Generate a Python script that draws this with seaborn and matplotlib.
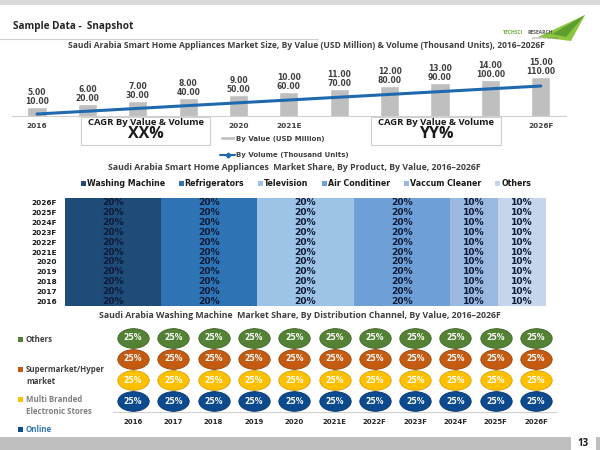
import matplotlib
matplotlib.use('Agg')
import matplotlib.pyplot as plt
import seaborn as sns
import numpy as np
import pandas as pd
from matplotlib.path import Path
from matplotlib.markers import MarkerStyle
from matplotlib.patches import Rectangle, Polygon

# --- data ---
years = ['2016', '2017', '2018', '2019', '2020', '2021E', '2022F', '2023F', '2024F', '2025F', '2026F']
value_usd_mn = [5.00, 6.00, 7.00, 8.00, 9.00, 10.00, 11.00, 12.00, 13.00, 14.00, 15.00]
volume_k_units = [10.00, 20.00, 30.00, 40.00, 50.00, 60.00, 70.00, 80.00, 90.00, 100.00, 110.00]
# year labels left uncovered by the CAGR boxes
shown_years = ['2016', '2020', '2021E', '2026F']

products = ['Washing Machine', 'Refrigerators', 'Television', 'Air Conditiner', 'Vaccum Cleaner', 'Others']
share_washing = [20, 20, 20, 20, 20, 20, 20, 20, 20, 20, 20]
share_fridge = [20, 20, 20, 20, 20, 20, 20, 20, 20, 20, 20]
share_tv = [20, 20, 20, 20, 20, 20, 20, 20, 20, 20, 20]
share_ac = [20, 20, 20, 20, 20, 20, 20, 20, 20, 20, 20]
share_vacuum = [10, 10, 10, 10, 10, 10, 10, 10, 10, 10, 10]
share_others = [10, 10, 10, 10, 10, 10, 10, 10, 10, 10, 10]
product_colors = ['#1F4B78', '#2E74B5', '#9DC3E6', '#6E9FD6', '#9BB8E0', '#C5D5EC']

# distribution channels, bottom of stack first
channels = ['Online', 'Multi Branded Electronic Stores', 'Supermarket/Hyper market', 'Others']
ch_online = [25, 25, 25, 25, 25, 25, 25, 25, 25, 25, 25]
ch_multi = [25, 25, 25, 25, 25, 25, 25, 25, 25, 25, 25]
ch_super = [25, 25, 25, 25, 25, 25, 25, 25, 25, 25, 25]
ch_others = [25, 25, 25, 25, 25, 25, 25, 25, 25, 25, 25]
channel_colors = ['#0B4A8F', '#FFC000', '#C55A11', '#548235']
channel_edges = ['#08386C', '#D9A300', '#9C470D', '#3F6427']

sns.set_style('white')
plt.rcParams['font.family'] = ['Open Sans', 'DejaVu Sans']

W, H = 600, 450
fig = plt.figure(figsize=(6, 4.5), dpi=100)


def box(l, t, r, b):
    return [l / W, 1 - b / H, (r - l) / W, (b - t) / H]


GREY_TXT = '#404040'

# --- 1. market size: bars (value) + line (volume) ---
ax = fig.add_axes(box(11.8, 60, 566, 116))
x = np.arange(len(years))
sns.barplot(x=years, y=value_usd_mn, color='#BFBFBF', width=0.38, ax=ax, saturation=1)
ax.set_ylim(2, 20.67)
ax.set_xlim(-0.5, 10.5)
ax.set_yticks([])
for s in ['top', 'left', 'right']:
    ax.spines[s].set_visible(False)
ax.spines['bottom'].set_color('#D0D0D0')
ax.set_xticks(x)
ax.set_xticklabels([y if y in shown_years else '' for y in years])
ax.tick_params(axis='x', length=0, pad=5)
for lbl in ax.get_xticklabels():
    lbl.set_fontfamily('DejaVu Sans')
    lbl.set_fontsize(5.3)
    lbl.set_fontweight('bold')
    lbl.set_color(GREY_TXT)
for i in range(len(years)):
    ax.annotate(f'{volume_k_units[i]:.2f}', (i, value_usd_mn[i]), xytext=(0, 0.5),
                textcoords='offset points', ha='center', va='bottom',
                fontsize=5.5, fontweight='bold', color=GREY_TXT, family='DejaVu Sans')
    ax.annotate(f'{value_usd_mn[i]:.2f}', (i, value_usd_mn[i]), xytext=(0, 7),
                textcoords='offset points', ha='center', va='bottom',
                fontsize=5.5, fontweight='bold', color=GREY_TXT, family='DejaVu Sans')

ax2 = ax.twinx()
sns.lineplot(x=x, y=volume_k_units, color='#1F6AAE', linewidth=2.2, ax=ax2, legend=False)
ax2.set_ylim(2.86, 202.9)
ax2.set_xlim(-0.5, 10.5)
ax2.axis('off')

h1 = ax.containers[0].patches[0]
line_handle = plt.Line2D([], [], color='#1F6AAE', linewidth=1.5, marker='D', markersize=2.5)
fig.legend([h1, line_handle], ['By Value (USD Million)', 'By Volume (Thousand Units)'],
           loc='upper left', bbox_to_anchor=(220 / W, 1 - 135.5 / H), frameon=False,
           prop={'family': 'DejaVu Sans', 'size': 5.0, 'weight': 'bold'},
           labelspacing=1.5, handlelength=2.2, handleheight=0.4, handletextpad=0.15,
           borderaxespad=0, borderpad=0, labelcolor=GREY_TXT)

# --- 2. market share by product: stacked horizontal bars ---
axm = fig.add_axes(box(65, 198, 546, 306))
share_df = pd.DataFrame({'year': years, products[0]: share_washing, products[1]: share_fridge,
                         products[2]: share_tv, products[3]: share_ac,
                         products[4]: share_vacuum, products[5]: share_others})
left = np.zeros(len(years))
handles = []
for p, c in zip(products, product_colors):
    cont = axm.barh(np.arange(len(years)), share_df[p], left=left, height=1.0,
                    color=c, edgecolor='none')
    axm.bar_label(cont, labels=[f'{v}%' for v in share_df[p]], label_type='center',
                  fontsize=6.6, fontweight='bold', color='#0E1B38', family='DejaVu Sans')
    handles.append(cont)
    left += share_df[p].values
axm.set_xlim(0, 100)
axm.set_ylim(-0.5, 10.5)
axm.set_xticks([])
axm.set_yticks(np.arange(len(years)))
axm.set_yticklabels(years)
axm.tick_params(axis='y', length=0, pad=6)
for lbl in axm.get_yticklabels():
    lbl.set_fontfamily('DejaVu Sans')
    lbl.set_fontsize(5.3)
    lbl.set_fontweight('bold')
    lbl.set_color('#1A1A1A')
sns.despine(ax=axm, left=True, bottom=True)
fig.legend(handles, products, loc='center', bbox_to_anchor=(306 / W, 1 - 183.5 / H), ncol=6,
           frameon=False, prop={'family': 'DejaVu Sans', 'size': 5.7, 'weight': 'bold'},
           handlelength=0.6, handleheight=0.6, handletextpad=0.15, columnspacing=1.75,
           borderaxespad=0, borderpad=0, labelcolor='#1A1A1A')

# --- 3. washing machine share by channel: stacked ellipse columns ---
axb = fig.add_axes(box(112.9, 327, 556.2, 412))
ch_df = pd.DataFrame({'year': years, channels[0]: ch_online, channels[1]: ch_multi,
                      channels[2]: ch_super, channels[3]: ch_others})
totals = ch_df[channels].sum(axis=1)
axb.bar(x, totals, width=0.11, color='#A6A6A6', zorder=1)
circ = Path.unit_circle()
ellipse = Path(circ.vertices * np.array([1.6, 1.0]), circ.codes)
bottom = np.zeros(len(years))
for ch, c, ec in zip(channels, channel_colors, channel_edges):
    mid = bottom + ch_df[ch].values / 2
    sns.scatterplot(x=x, y=mid, marker=MarkerStyle(ellipse), s=510, color=c,
                    edgecolor=ec, linewidth=0.6, ax=axb, zorder=3, legend=False)
    for xi, yi, v in zip(x, mid, ch_df[ch]):
        axb.text(xi, yi, f'{v}%', ha='center', va='center', fontsize=5.6,
                 fontweight='bold', color='white', family='DejaVu Sans', zorder=4)
    bottom += ch_df[ch].values
axb.set_xlim(-0.5, 10.5)
axb.set_ylim(0, 100)
axb.set_yticks([])
axb.set_xticks(x)
axb.set_xticklabels(years)
axb.set_xticks(np.arange(-0.5, 11, 1), minor=True)
axb.tick_params(axis='x', which='major', length=0, pad=5)
axb.tick_params(axis='x', which='minor', length=2.5, color='#D0D0D0', width=0.6)
for lbl in axb.get_xticklabels():
    lbl.set_fontfamily('DejaVu Sans')
    lbl.set_fontsize(5.0)
    lbl.set_fontweight('bold')
    lbl.set_color('#262626')
for s in ['top', 'left', 'right']:
    axb.spines[s].set_visible(False)
axb.spines['bottom'].set_color('#D0D0D0')
axb.spines['bottom'].set_linewidth(0.8)

# --- slide decoration (pixel coordinates) ---
ov = fig.add_axes([0, 0, 1, 1], zorder=10)
ov.set_xlim(0, W)
ov.set_ylim(H, 0)
ov.axis('off')
ov.patch.set_alpha(0)

ov.add_patch(Rectangle((0, 0), 600, 5, color='#D9D9D9', lw=0))
ov.add_patch(Rectangle((0, 437), 571, 13, color='#BFBFBF', lw=0))
ov.add_patch(Rectangle((596, 437), 4, 13, color='#BFBFBF', lw=0))
ov.text(583, 443.5, '13', ha='center', va='center', fontsize=7, fontweight='bold', color='#1A1A1A')
ov.text(13, 26, 'Sample Data -  Snapshot', ha='left', va='center', fontsize=7.2,
        fontweight='bold', color='#262626')
ov.plot([0, 318], [39, 39], color='#D0D0D0', lw=0.8)

# logo
ov.add_patch(Polygon([[538, 37], [585, 15], [571, 41]], closed=True, color='#8DC63F', lw=0))
ov.add_patch(Polygon([[552, 34], [585, 15], [566, 37]], closed=True, color='#5E9E2E', lw=0))
ov.text(503, 33, 'TECHSCI', ha='left', va='center', fontsize=3.6, color='#6AAE3A', fontweight='bold')
ov.text(528, 33, 'RESEARCH', ha='left', va='center', fontsize=3.6, color='#595959', fontweight='bold')
ov.text(532, 38.5, 'passion to succeed', ha='left', va='center', fontsize=2.2, color='#808080')

# chart titles
ov.text(306, 46, 'Saudi Arabia Smart Home Appliances Market Size, By Value (USD Million) & Volume (Thousand Units), 2016–2026F',
        ha='center', va='center', fontsize=6.15, fontweight='bold', color=GREY_TXT)
ov.text(294, 168, 'Saudi Arabia Smart Home Appliances  Market Share, By Product, By Value, 2016–2026F',
        ha='center', va='center', fontsize=6.3, fontweight='bold', color=GREY_TXT)
ov.text(300, 316, 'Saudi Arabia Washing Machine  Market Share, By Distribution Channel, By Value, 2016–2026F',
        ha='center', va='center', fontsize=6.3, fontweight='bold', color=GREY_TXT)

# CAGR boxes
for l, r, txt in [(81, 210, 'XX%'), (371, 501, 'YY%')]:
    ov.add_patch(Rectangle((l, 116.5), r - l, 28, facecolor='white', edgecolor='#D0D0D0', lw=0.8))
    ov.text((l + r) / 2, 122.5, 'CAGR By Value & Volume', ha='center', va='center',
            fontsize=6.8, fontweight='bold', color='#1A1A1A')
    ov.text((l + r) / 2, 134.5, txt, ha='center', va='center', fontsize=11.5,
            fontweight='bold', color='#1A1A1A')

# channel legend (left)
leg_items = [('Others', 339, '#404040', channel_colors[3]),
             ('Supermarket/Hyper\nmarket', 369, '#404040', channel_colors[2]),
             ('Multi Branded\nElectronic Stores', 399, '#7F7F7F', channel_colors[1]),
             ('Online', 429, '#2E75B6', channel_colors[0])]
for label, yy, tc, mc in leg_items:
    ov.add_patch(Rectangle((18, yy - 2.5), 5, 5, color=mc, lw=0))
    ov.text(26, yy - 4.5, label, ha='left', va='top', fontsize=5.7, fontweight='bold',
            color=tc, linespacing=1.45)

fig.savefig('out.png', dpi=100)
